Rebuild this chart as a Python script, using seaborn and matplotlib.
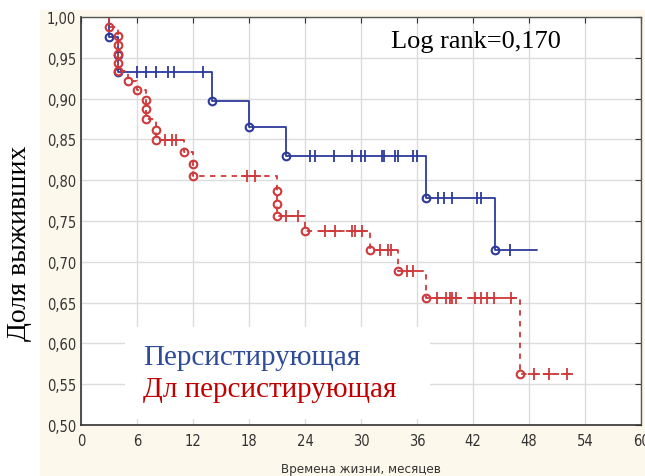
import numpy as np
import pandas as pd
import matplotlib
matplotlib.use("Agg")
import matplotlib.pyplot as plt
import seaborn as sns
from matplotlib.patches import Rectangle

# ---------------- data ----------------
blue_event_t = [3, 4, 4, 14, 18, 22, 37, 44.4]
blue_event_s = [0.976, 0.953, 0.932, 0.897, 0.865, 0.830, 0.778, 0.714]
blue_cens_t = [6.0, 7.0, 8.0, 9.35, 10.0, 13.1,
               24.5, 25.1, 27.1, 29.0, 30.0, 30.4, 32.3, 32.5, 33.6, 34.0, 35.6, 36.0,
               38.3, 38.9, 39.7, 42.4, 42.9, 46.0]
blue_end = 48.9

red_event_t = [3, 4, 4, 4, 4, 4, 5, 6, 7, 7, 7, 8, 8, 11, 12, 12,
               21, 21, 21, 24, 31, 34, 37, 47]
red_event_s = [0.988, 0.977, 0.966, 0.955, 0.944, 0.934, 0.922, 0.911, 0.898, 0.887, 0.875,
               0.861, 0.849, 0.835, 0.820, 0.805, 0.787, 0.771, 0.756, 0.738, 0.715, 0.689,
               0.656, 0.562]
red_cens_t = [9.0, 9.7, 10.2, 17.8, 18.6, 22.0, 23.3,
              26.1, 27.2, 29.0, 29.4, 30.1, 32.0, 32.9, 33.2, 34.9, 35.6,
              38.1, 39.1, 39.5, 39.8, 40.2, 42.2, 42.9, 43.5, 44.2, 46.1,
              48.5, 50.1, 52.05]
red_end = 52.4

x_ticks = [0, 6, 12, 18, 24, 30, 36, 42, 48, 54, 60]
y_ticks = [0.50, 0.55, 0.60, 0.65, 0.70, 0.75, 0.80, 0.85, 0.90, 0.95, 1.00]

label_blue = "Персистирующая"
label_red = "Дл персистирующая"
title_text = "Log rank=0,170"
x_label = "Времена жизни, месяцев"
y_label = "Доля выживших"

BLUE = "#2d3a9c"
RED = "#d0383a"


def steps(ev_t, ev_s, end_t):
    xs, ys = [ev_t[0]], [1.0]
    prev = 1.0
    for t, s in zip(ev_t, ev_s):
        xs += [t, t]
        ys += [prev, s]
        prev = s
    xs.append(end_t)
    ys.append(prev)
    return pd.DataFrame({"t": xs, "s": ys})


def surv_at(ev_t, ev_s, times):
    out = []
    for c in times:
        s = 1.0
        for t, v in zip(ev_t, ev_s):
            if t <= c:
                s = v
        out.append(s)
    return out


sns.set_style("white")
fig = plt.figure(figsize=(6.45, 4.77), dpi=100)
fig.patches.append(Rectangle((40 / 645, 0), 1, 1 - 11 / 477, transform=fig.transFigure,
                             facecolor="#fcf8ec", edgecolor="none", zorder=-10))
ax = fig.add_axes([81 / 645, 1 - 426 / 477, 560 / 645, 408 / 477])
ax.set_zorder(1)
ax.set_facecolor("white")

bdf = steps(blue_event_t, blue_event_s, blue_end)
rdf = steps(red_event_t, red_event_s, red_end)

sns.lineplot(data=bdf, x="t", y="s", sort=False, estimator=None, color=BLUE, lw=1.3, ax=ax)
sns.lineplot(data=rdf, x="t", y="s", sort=False, estimator=None, color=RED, lw=1.3,
             linestyle=(0, (3, 3)), ax=ax)

# event circles
ax.plot(blue_event_t, blue_event_s, ls="none", marker="o", ms=5.5, mfc="none",
        mec=BLUE, mew=1.5, zorder=4)
ax.plot(red_event_t, red_event_s, ls="none", marker="o", ms=5.5, mfc="none",
        mec=RED, mew=1.5, zorder=4)
# censor marks
ax.plot(blue_cens_t, surv_at(blue_event_t, blue_event_s, blue_cens_t), ls="none",
        marker="|", ms=8, mec=BLUE, mew=1.3, zorder=4)
ax.plot(red_cens_t, surv_at(red_event_t, red_event_s, red_cens_t), ls="none",
        marker="+", ms=8, mec=RED, mew=1.3, zorder=4)

ax.set_xlim(0, 60)
ax.set_ylim(0.5, 1.0)
ax.set_xticks(x_ticks)
ax.set_yticks(y_ticks)
ax.set_xticklabels([str(v) for v in x_ticks])
ax.set_yticklabels([f"{v:.2f}".replace(".", ",") for v in y_ticks])
ax.grid(True, color="#dcdcdc", lw=1.0)
ax.set_axisbelow(True)
ax.tick_params(axis="both", labelsize=10.5, colors="#333333", length=4, direction="in",
               top=True, right=True, labeltop=False, labelright=False)
ax.tick_params(axis="x", pad=6)
for lab in ax.get_xticklabels() + ax.get_yticklabels():
    lab.set_family(["DejaVu Sans"])
    lab.set_fontstretch("condensed")
for side in ["left", "bottom"]:
    ax.spines[side].set_color("#333333")
    ax.spines[side].set_linewidth(1.2)
for side in ["top", "right"]:
    ax.spines[side].set_color("#555555")
    ax.spines[side].set_linewidth(1.0)

ax.set_xlabel(x_label, fontsize=9.5, color="#333333", labelpad=10,
              family=["DejaVu Sans"], fontstretch="condensed")
ax.set_ylabel("")
fig.text(20 / 645, 1 - 243 / 477, y_label, rotation=90, va="center", ha="center",
         fontsize=20, family=["Liberation Serif", "DejaVu Serif"], color="black")

ax.text(391 / 645, 1 - 42 / 477, title_text, transform=fig.transFigure, ha="left",
        va="center", fontsize=19, family=["Liberation Serif", "DejaVu Serif"], color="black")

ax.add_patch(Rectangle((125 / 645, 1 - 420 / 477), 305 / 645, 92 / 477,
                       transform=fig.transFigure, facecolor="white",
                       edgecolor="none", zorder=5))
ax.text(143 / 645, 1 - 358 / 477, label_blue, transform=fig.transFigure, ha="left",
        va="center", fontsize=21, family=["Liberation Serif", "DejaVu Serif"],
        color="#2e4b9b", zorder=6)
ax.text(143 / 645, 1 - 390 / 477, label_red, transform=fig.transFigure, ha="left",
        va="center", fontsize=21, family=["Liberation Serif", "DejaVu Serif"],
        color="#c00000", zorder=6)

fig.savefig("out.png", dpi=100)
